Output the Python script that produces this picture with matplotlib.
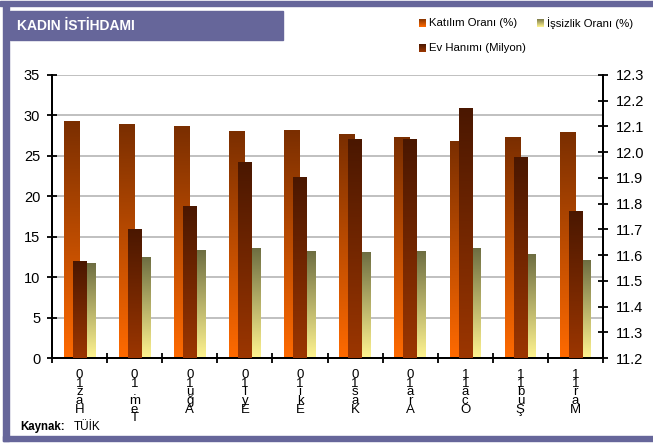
import matplotlib
matplotlib.use("Agg")
import matplotlib.pyplot as plt
import matplotlib.transforms as mtransforms
from matplotlib.colors import LinearSegmentedColormap
from matplotlib.patches import Rectangle
import numpy as np

plt.rcParams["font.family"] = ["Liberation Sans", "DejaVu Sans"]

# --------------------------- Data ---------------------------
months = ["Haz10", "Tem.10", "Ağu10", "Eyl10", "Eki10", "Kas10", "Ara10", "Oca11", "Şub11", "Mar11"]
katilim = [29.2, 28.9, 28.6, 27.97, 28.13, 27.64, 27.27, 26.8, 27.27, 27.9]
issizlik = [11.7, 12.4, 13.35, 13.56, 13.19, 13.02, 13.19, 13.56, 12.86, 12.07]
ev_hanimi = [11.574, 11.70, 11.79, 11.96, 11.90, 12.05, 12.048, 12.17, 11.98, 11.77]

PURPLE = "#66669a"

# colour ramps (bottom -> top)
c_katilim = ("#ff6a00", "#7a2e00")
c_ev = ("#9c3600", "#4a1700")
c_issiz = ("#fff490", "#6e6e42")


def grad_bar(ax, x0, w, y0, y1, colors, z):
    cmap = LinearSegmentedColormap.from_list("g", list(colors))
    ax.imshow(np.linspace(0, 1, 256).reshape(-1, 1), extent=(x0, x0 + w, y0, y1),
              origin="lower", cmap=cmap, aspect="auto", zorder=z,
              interpolation="bilinear")


fig = plt.figure(figsize=(6.53, 4.46), dpi=100)
W, H = 653, 446

ax = fig.add_axes([52 / W, 1 - 358 / H, (603 - 52) / W, (358 - 75) / H])
ax2 = ax.twinx()

bw = 0.285
ew = 0.243
x = np.arange(len(months)) + 0.5
for i in range(len(months)):
    grad_bar(ax, x[i] - bw, bw, 0, katilim[i], c_katilim, 2)
    grad_bar(ax, x[i], bw, 0, issizlik[i], c_issiz, 2)
    grad_bar(ax2, x[i] - ew / 2, ew, 11.2, ev_hanimi[i], c_ev, 3)

ax.set_xlim(0, len(months))
ax.set_ylim(0, 35)
ax2.set_ylim(11.2, 12.3)
ax.set_yticks(np.arange(0, 36, 5))
ax2.set_yticks(np.round(np.arange(11.2, 12.31, 0.1), 1))
ax2.set_yticklabels([f"{v:.1f}" for v in np.arange(11.2, 12.31, 0.1)])
ax.set_xticks(np.arange(0, len(months) + 1))
ax.set_xticklabels([])

for y in np.arange(5, 36, 5):
    ax.axhline(y, color="#c0c0c0", lw=1.4, zorder=1)

for a in (ax, ax2):
    a.spines["top"].set_visible(False)
    for s in ("left", "right", "bottom"):
        a.spines[s].set_linewidth(1.4)
ax.tick_params(axis="both", direction="inout", length=7, width=1.3, labelsize=10.5)
ax.tick_params(axis="y", pad=5)
ax2.tick_params(axis="y", direction="inout", length=7, width=1.3, labelsize=10.5, pad=6)

# stacked month labels
trans = mtransforms.blended_transform_factory(ax.transData, ax.transAxes)
for i, m in enumerate(months):
    ax.text(x[i], -0.04, "\n".join(reversed(m)), transform=trans, ha="center",
            va="top", fontsize=9.5, linespacing=0.62)

# title box
fig.patches.append(Rectangle((10 / W, 1 - 40 / H), 273 / W, 29 / H, transform=fig.transFigure,
                             color=PURPLE, zorder=0))
fig.text(17 / W, 1 - 26 / H, "KADIN İSTİHDAMI", color="white", fontsize=10,
         fontweight="bold", va="center", ha="left")

# frame
fig.patches.append(Rectangle((0, 1 - 6 / H), 1, 5 / H, transform=fig.transFigure, color=PURPLE))
fig.patches.append(Rectangle((3 / W, 1 - 441 / H), 6 / W, 436 / H, transform=fig.transFigure, color=PURPLE))
fig.patches.append(Rectangle((3 / W, 1 - 441 / H), 1 - 3 / W, 5 / H, transform=fig.transFigure, color=PURPLE))

# legend
legend_items = [("Katılım Oranı (%)", c_katilim, 419, 23),
                ("İşsizlik Oranı (%)", c_issiz, 537, 23),
                ("Ev Hanımı (Milyon)", c_ev, 419, 48)]
for label, cols, lx, ly in legend_items:
    lax = fig.add_axes([lx / W, 1 - (ly + 4) / H, 7 / W, 8 / H])
    lax.imshow(np.linspace(0, 1, 32).reshape(-1, 1), origin="lower", aspect="auto",
               cmap=LinearSegmentedColormap.from_list("l", [cols[0], cols[1]]))
    lax.axis("off")
    fig.text((lx + 10) / W, 1 - ly / H, label, fontsize=8.2, va="center", ha="left")

fig.text(20 / W, 1 - 427 / H, "Kaynak:", fontsize=8.3, fontweight="bold", va="center")
fig.text(74 / W, 1 - 427 / H, "TÜİK", fontsize=8.5, va="center")

fig.savefig("out.png", dpi=100)
